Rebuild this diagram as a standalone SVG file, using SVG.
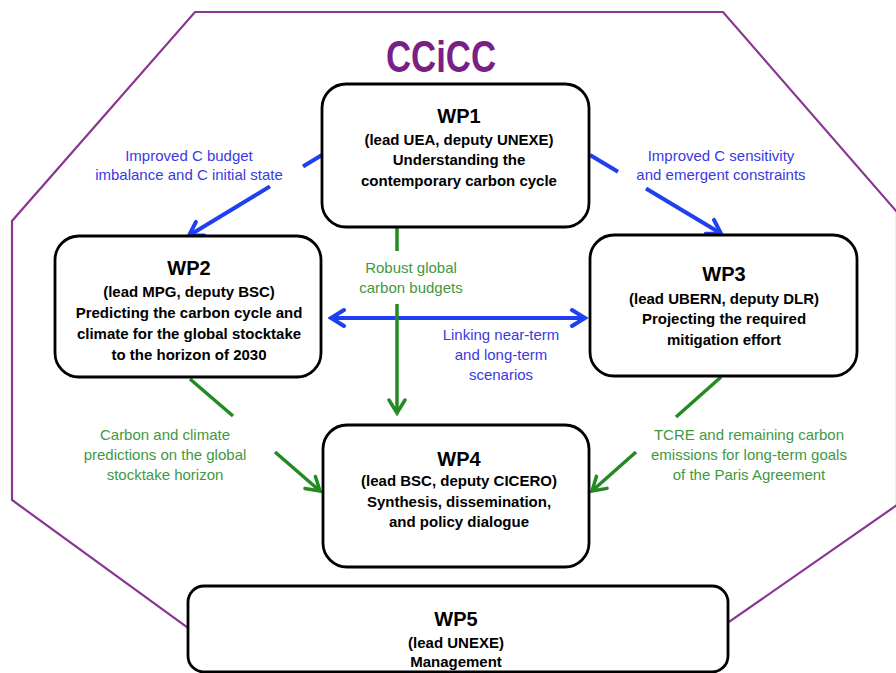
<svg xmlns="http://www.w3.org/2000/svg" width="896" height="673" viewBox="0 0 896 673">
  <defs>
    <style>
      .box { fill: #ffffff; stroke: #000000; stroke-width: 2.8; }
      .wp { font-family: "Liberation Sans", Arial, sans-serif; font-weight: bold; font-size: 20px; fill: #000; text-anchor: middle; }
      .tx { font-family: "Liberation Sans", Arial, sans-serif; font-weight: bold; font-size: 15px; fill: #000; text-anchor: middle; }
      .lb { font-family: "Liberation Sans", Arial, sans-serif; font-size: 15px; text-anchor: middle; }
      .lblue { fill: #3a3ae0; }
      .lgreen { fill: #3f983f; }
      .cb { stroke: #1f3ff0; stroke-width: 4; fill: none; }
      .cg { stroke: #228b22; stroke-width: 3.5; fill: none; }
    </style>
    <marker id="ab" viewBox="-16 -11 19 22" refX="0" refY="0" markerWidth="19" markerHeight="22" markerUnits="userSpaceOnUse" orient="auto-start-reverse">
      <path d="M-13,-8 L0,0 L-13,8" fill="none" stroke="#1f3ff0" stroke-width="4" stroke-linecap="round" stroke-linejoin="miter"/>
    </marker>
    <marker id="ag" viewBox="-16 -11 19 22" refX="0" refY="0" markerWidth="19" markerHeight="22" markerUnits="userSpaceOnUse" orient="auto-start-reverse">
      <path d="M-13,-8 L0,0 L-13,8" fill="none" stroke="#228b22" stroke-width="3.5" stroke-linecap="round" stroke-linejoin="miter"/>
    </marker>
  </defs>

  <rect x="0" y="0" width="896" height="673" fill="#ffffff"/>

  <!-- Octagon frame -->
  <polygon id="frame" points="195,12 723,12 897,212 897,505 729,622 188,628 12,500 12,221" fill="none" stroke="#8a3591" stroke-width="2.2"/>

  <text x="441" y="72" font-family="'Liberation Sans', Arial, sans-serif" font-weight="bold" font-size="44" fill="#7a1f86" text-anchor="middle" textLength="110" lengthAdjust="spacingAndGlyphs">CCiCC</text>

  <g id="connectors">
    <!-- WP1 -> WP2 -->
    <line class="cb" x1="322" y1="155" x2="303" y2="166.5"/>
    <line class="cb" x1="270" y1="186.4" x2="189" y2="235.5" marker-end="url(#ab)"/>
    <!-- WP1 -> WP3 -->
    <line class="cb" x1="590" y1="155" x2="618" y2="171.7"/>
    <line class="cb" x1="646" y1="188.5" x2="721" y2="233.5" marker-end="url(#ab)"/>
    <!-- WP2 <-> WP3 -->
    <line class="cb" x1="331" y1="318" x2="585" y2="318" marker-start="url(#ab)" marker-end="url(#ab)"/>
    <!-- WP1 -> WP4 -->
    <line class="cg" x1="397" y1="228" x2="397" y2="251"/>
    <line class="cg" x1="397" y1="304" x2="397" y2="413" marker-end="url(#ag)"/>
    <!-- WP2 -> WP4 -->
    <line class="cg" x1="190" y1="379" x2="233" y2="416"/>
    <line class="cg" x1="275" y1="452" x2="320" y2="491" marker-end="url(#ag)"/>
    <!-- WP3 -> WP4 -->
    <line class="cg" x1="721" y1="377" x2="676" y2="417"/>
    <line class="cg" x1="636" y1="452" x2="592" y2="491" marker-end="url(#ag)"/>
  </g>

  <g id="labels">
    <text class="lb lblue" x="189" y="161">Improved C budget</text>
    <text class="lb lblue" x="189" y="180">imbalance and C initial state</text>
    <text class="lb lblue" x="721" y="161">Improved C sensitivity</text>
    <text class="lb lblue" x="721" y="180">and emergent constraints</text>
    <text class="lb lgreen" x="411" y="273">Robust global</text>
    <text class="lb lgreen" x="411" y="293">carbon budgets</text>
    <text class="lb lblue" x="501" y="340">Linking near-term</text>
    <text class="lb lblue" x="501" y="360">and long-term</text>
    <text class="lb lblue" x="501" y="380">scenarios</text>
    <text class="lb lgreen" x="165" y="440">Carbon and climate</text>
    <text class="lb lgreen" x="165" y="460">predictions on the global</text>
    <text class="lb lgreen" x="165" y="480">stocktake horizon</text>
    <text class="lb lgreen" x="749" y="440">TCRE and remaining carbon</text>
    <text class="lb lgreen" x="749" y="460">emissions for long-term goals</text>
    <text class="lb lgreen" x="749" y="480">of the Paris Agreement</text>
  </g>

  <g id="wp1">
    <rect class="box" x="322" y="84" width="267" height="143" rx="24" ry="24"/>
    <text class="wp" x="459" y="123">WP1</text>
    <text class="tx" x="459" y="145">(lead UEA, deputy UNEXE)</text>
    <text class="tx" x="459" y="165">Understanding the</text>
    <text class="tx" x="459" y="186">contemporary carbon cycle</text>
  </g>

  <g id="wp2">
    <rect class="box" x="55" y="236" width="266" height="141" rx="24" ry="24"/>
    <text class="wp" x="189" y="275">WP2</text>
    <text class="tx" x="189" y="297">(lead MPG, deputy BSC)</text>
    <text class="tx" x="189" y="318">Predicting the carbon cycle and</text>
    <text class="tx" x="189" y="339">climate for the global stocktake</text>
    <text class="tx" x="189" y="360">to the horizon of 2030</text>
  </g>

  <g id="wp3">
    <rect class="box" x="590" y="235" width="267" height="141" rx="24" ry="24"/>
    <text class="wp" x="724" y="281">WP3</text>
    <text class="tx" x="724" y="304">(lead UBERN, deputy DLR)</text>
    <text class="tx" x="724" y="324">Projecting the required</text>
    <text class="tx" x="724" y="345">mitigation effort</text>
  </g>

  <g id="wp4">
    <rect class="box" x="323" y="425" width="266" height="142" rx="24" ry="24"/>
    <text class="wp" x="459" y="466">WP4</text>
    <text class="tx" x="459" y="486">(lead BSC, deputy CICERO)</text>
    <text class="tx" x="459" y="507">Synthesis, dissemination,</text>
    <text class="tx" x="459" y="527">and policy dialogue</text>
  </g>

  <g id="wp5">
    <rect class="box" x="188" y="586" width="540" height="86" rx="16" ry="16"/>
    <text class="wp" x="456" y="626">WP5</text>
    <text class="tx" x="456" y="648">(lead UNEXE)</text>
    <text class="tx" x="456" y="667">Management</text>
  </g>
</svg>
